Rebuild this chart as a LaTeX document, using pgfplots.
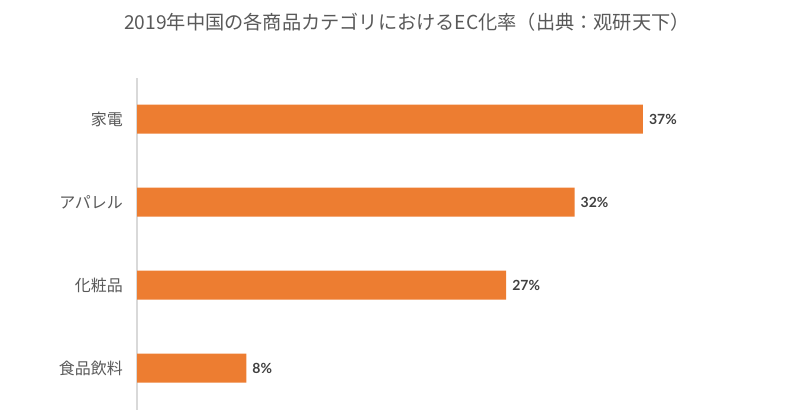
\documentclass[border=0pt]{standalone}
\usepackage{pgfplots}
\pgfplotsset{compat=1.18}
\usepackage{fontspec}
\setmainfont{Noto Sans CJK JP}
\newfontfamily\latofont{Lato}
\definecolor{barorange}{HTML}{ED7D31}
\definecolor{txtgray}{HTML}{595959}
\definecolor{valgray}{HTML}{404040}
\definecolor{axgray}{HTML}{D9D9D9}
\begin{document}
\begin{tikzpicture}[x=0.75pt,y=0.75pt]
\path[use as bounding box] (0,0) rectangle (799,415);
\node[text=txtgray, font=\fontsize{14.4}{16}\selectfont, inner sep=0pt] at (407,393) {2019年中国の各商品カテゴリにおけるEC化率（出典：观研天下）};
\begin{axis}[
  at={(102.75pt,4.125pt)}, anchor=south west,
  scale only axis, width=410.25pt, height=249pt,
  xmin=0, xmax=40, ymin=-0.5, ymax=3.5,
  xbar, bar width=21.75pt,
  axis x line=none, axis y line*=left,
  y axis line style={draw=axgray, line width=0.8pt},
  xtick=\empty,
  ytick={0,1,2,3},
  yticklabels={食品飲料,化粧品,アパレル,家電},
  major tick length=0pt,
  yticklabel style={text=txtgray, font=\fontsize{12}{14}\selectfont, xshift=-7pt},
  /pgf/number format/assume math mode=true,
  nodes near coords={\pgfmathprintnumber{\pgfplotspointmeta}\%},
  nodes near coords style={font=\latofont\bfseries\fontsize{10.5}{12}\selectfont, text=valgray, anchor=west, xshift=1pt},
  clip=false,
]
\addplot[draw=none, fill=barorange] coordinates {(8,0) (27,1) (32,2) (37,3)};
\end{axis}
\end{tikzpicture}
\end{document}
